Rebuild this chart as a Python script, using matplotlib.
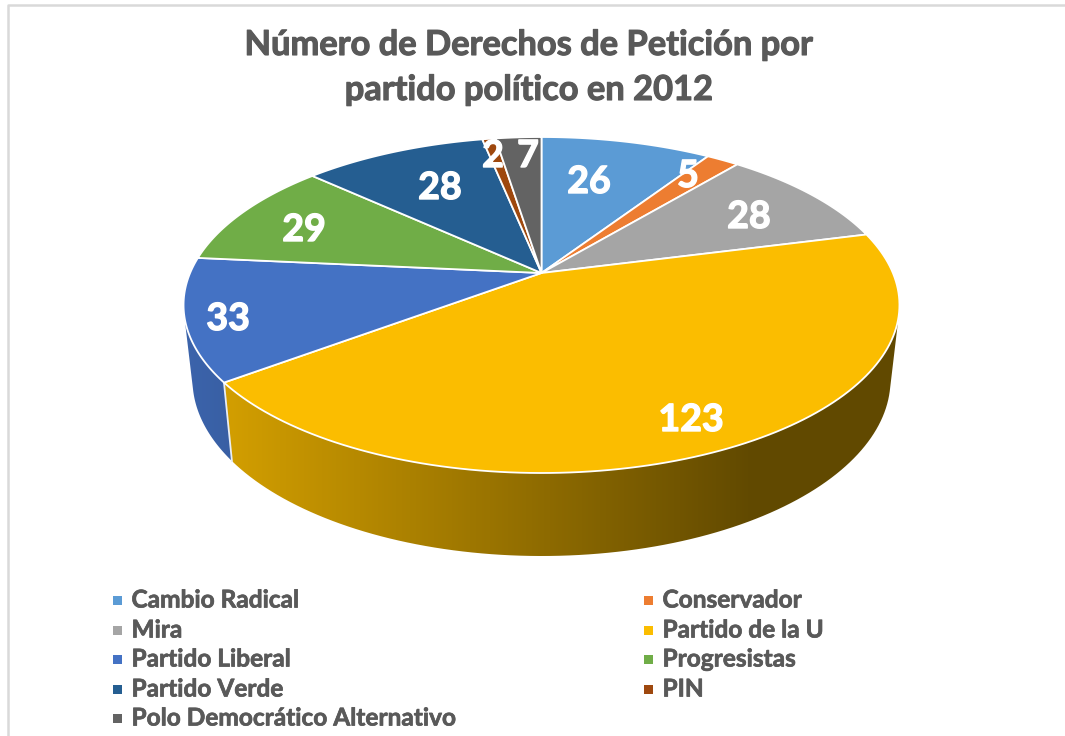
import numpy as np
import matplotlib
matplotlib.use("Agg")
from matplotlib import pyplot as plt
from matplotlib import patheffects as pe
from matplotlib.patches import Rectangle, Polygon
from matplotlib.colors import to_rgb

partidos = ["Cambio Radical", "Conservador", "Mira", "Partido de la U", "Partido Liberal",
            "Progresistas", "Partido Verde", "PIN", "Polo Democrático Alternativo"]
peticiones = [26, 5, 28, 123, 33, 29, 28, 2, 7]
colores = ["#5B9BD5", "#ED7D31", "#A5A5A5", "#FBBD00", "#4472C4",
           "#70AD47", "#255E91", "#9E480E", "#636363"]
titulo = ["Número de Derechos de Petición por", "partido político en 2012"]

# where the value labels sit, in picture pixels
label_x = [589, 688, 749, 691, 228, 304, 440, 493, 528]
label_y = [179, 173, 214, 417, 316, 227, 185, 153, 153]

plt.rcParams['font.family'] = ['Lato', 'DejaVu Sans']

# pie geometry (pixels), perspective of the top face
cx, cy = 541.5, 273
a, b, k = 351.4, 161.9, 0.1905
low_scale, low_stretch, low_y = 0.975, 1.05, 346


def top_rim(t):
    # t is the angle in radians, clockwise from 12 o'clock
    px = np.sin(t)
    py = np.cos(t)
    w = 1 + k * py
    return cx + a * px / w, cy - b * py / w


def low_rim(t):
    x, y = top_rim(t)
    return cx + low_scale * (x - cx), low_y + low_stretch * (y - cy)


def hull(points):
    # monotone chain, gives the outline of one slice's wall
    pts = sorted(set(points))

    def half(seq):
        out = []
        for p in seq:
            while len(out) > 1 and ((out[-1][0] - out[-2][0]) * (p[1] - out[-2][1])
                                    - (out[-1][1] - out[-2][1]) * (p[0] - out[-2][0])) <= 0:
                out.pop()
            out.append(p)
        return out[:-1]

    return half(pts) + half(pts[::-1])


def bold(w, col):
    # Lato bold is lighter than the original face
    return [pe.withStroke(linewidth=w, foreground=col)]


fig = plt.figure(figsize=(10.65, 7.36), dpi=100)
ax = fig.add_axes([0, 0, 1, 1])

# chart border, only top and left show in the crop
ax.plot([8, 8, 1065], [736, 5, 5], color="#D9D9D9", lw=1.8, zorder=1)

angulos = np.cumsum([0] + peticiones) / sum(peticiones) * 2 * np.pi

# side wall first, a gradient image clipped to each slice
grad_x = np.linspace(150, 950, 400)
factor = np.interp(grad_x, [190, 750], [0.87, 0.39])
for i in range(len(peticiones)):
    ts = np.linspace(angulos[i], angulos[i + 1], 120)
    x0, y0 = top_rim(ts)
    x1, y1 = low_rim(ts)
    outline = hull(list(zip(x0, y0)) + list(zip(x1, y1)))
    poly = Polygon(outline, closed=True, transform=ax.transData,
                   facecolor="none", edgecolor="none")
    ax.add_patch(poly)
    img = np.outer(factor, to_rgb(colores[i]))[None, :, :]
    ax.imshow(img, extent=[150, 950, 600, 100], aspect="auto", clip_path=poly, zorder=2)

# white edge between the two visible walls
t_edge = angulos[4]
xa, ya = top_rim(t_edge)
xb, yb = low_rim(t_edge)
ax.plot([xa, xb], [ya, yb], color="#E8EDF5", lw=1.3, zorder=3)

# top face
for i in range(len(peticiones)):
    ts = np.linspace(angulos[i], angulos[i + 1], 120)
    xs, ys = top_rim(ts)
    ax.fill(np.r_[cx, xs], np.r_[cy, ys], facecolor=colores[i], edgecolor="white",
            lw=1.3, joinstyle="round", zorder=4)

for i, v in enumerate(peticiones):
    ax.text(label_x[i], label_y[i] + 3, str(v), color="white", fontsize=27, fontweight="bold",
            ha="center", va="center", zorder=5, path_effects=bold(1.0, "white"))

ax.text(529, 45, titulo[0], color="#595959", fontsize=24.8, fontweight="bold", ha="center",
        va="center", zorder=5, path_effects=bold(0.8, "#595959"))
ax.text(529, 90, titulo[1], color="#595959", fontsize=24.8, fontweight="bold", ha="center",
        va="center", zorder=5, path_effects=bold(0.8, "#595959"))

# legend, two columns filled row by row
rows_y = [600, 630, 659, 689, 718]
for i, nombre in enumerate(partidos):
    col = i % 2
    y = rows_y[i // 2]
    mx = 113 if col == 0 else 644
    ax.add_patch(Rectangle((mx, y - 4.5), 9, 9, facecolor=colores[i], edgecolor="none", zorder=5))
    ax.text(mx + 18.5, y, nombre, color="#595959", fontsize=17.6, fontweight="bold",
            ha="left", va="center", zorder=5, path_effects=bold(0.5, "#595959"))

ax.set_xlim(0, 1065)
ax.set_ylim(736, 0)
ax.axis("off")

fig.savefig("out.png", dpi=100)
